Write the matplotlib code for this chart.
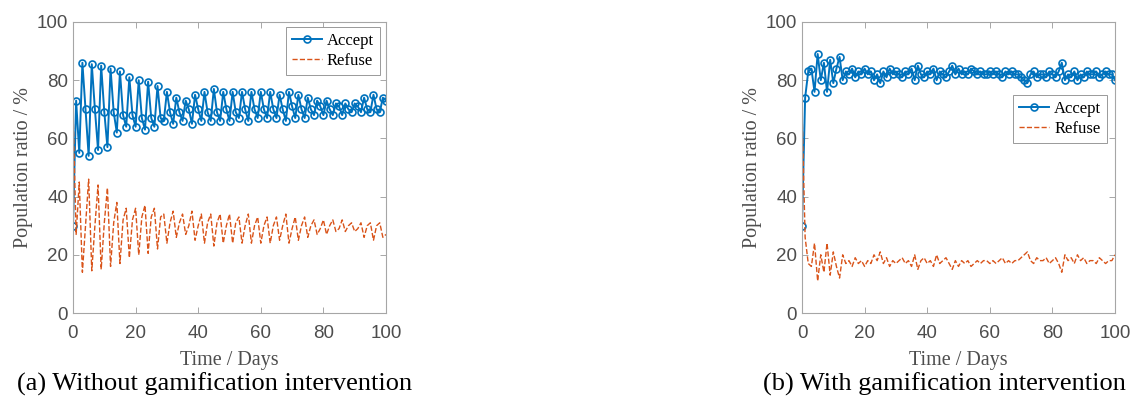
import matplotlib
matplotlib.use("Agg")
import matplotlib.pyplot as plt

# day index 0..100
days = list(range(101))

# (a) without gamification intervention
accept_a = [30, 73, 55, 86, 70, 54, 85.5, 70, 56, 85, 69, 57, 84, 69, 62, 83, 68, 64, 81, 68,
            64, 80, 67, 63, 79.5, 67, 64, 78, 67, 66, 76, 69, 65, 74, 69, 66, 73, 70, 65, 75,
            70, 66, 76, 69, 66, 77, 69, 66, 76, 70, 66, 76, 69, 67, 76, 70, 66, 76, 70, 67,
            76, 70, 67, 76, 70, 67, 75, 70, 66, 76, 71, 67, 75, 70, 67, 74, 70, 68, 73, 71,
            68, 73, 70, 68, 72, 71, 68, 72, 70, 69, 72, 71, 69, 74, 70, 69, 75, 70, 69, 74,
            73]
refuse_a = [70, 27, 45, 14, 30, 46, 14.5, 30, 44, 15, 31, 43, 16, 31, 38, 17, 32, 36, 19, 32,
            36, 20, 33, 37, 20.5, 33, 36, 22, 33, 34, 24, 31, 35, 26, 31, 34, 27, 30, 35, 25,
            30, 34, 24, 31, 34, 23, 31, 34, 24, 30, 34, 24, 31, 33, 24, 30, 34, 24, 30, 33,
            24, 30, 33, 24, 30, 33, 25, 30, 34, 24, 29, 33, 25, 30, 33, 26, 30, 32, 27, 29,
            32, 27, 30, 32, 28, 29, 32, 28, 30, 31, 28, 29, 31, 26, 30, 31, 25, 30, 31, 26,
            27]

# (b) with gamification intervention
accept_b = [30, 74, 83, 84, 76, 89, 80, 86, 76, 87, 79, 84, 88, 80, 83, 82, 84, 81, 83, 82,
            84, 82, 83, 80, 82, 79, 83, 81, 84, 82, 83, 82, 81, 83, 82, 84, 80, 85, 82, 81,
            83, 82, 84, 80, 83, 82, 81, 83, 85, 82, 84, 82, 83, 82, 84, 83, 82, 83, 82, 82,
            83, 82, 83, 82, 81, 83, 82, 83, 82, 82, 81, 80, 79, 82, 83, 81, 82, 82, 81, 83,
            82, 81, 83, 86, 80, 82, 81, 83, 80, 82, 81, 83, 82, 82, 83, 81, 82, 83, 82, 82,
            80]
refuse_b = [70, 26, 17, 16, 24, 11, 20, 14, 24, 13, 21, 16, 12, 20, 17, 18, 16, 19, 17, 18,
            16, 18, 17, 20, 18, 21, 17, 19, 16, 18, 17, 18, 19, 17, 18, 16, 20, 15, 18, 19,
            17, 18, 16, 20, 17, 18, 19, 17, 15, 18, 16, 18, 17, 18, 16, 17, 18, 17, 18, 18,
            17, 18, 17, 18, 19, 17, 18, 17, 18, 18, 19, 20, 21, 18, 17, 19, 18, 18, 19, 17,
            18, 19, 17, 14, 20, 18, 19, 17, 20, 18, 19, 17, 18, 18, 17, 19, 18, 17, 18, 18,
            20]

captions = ["(a) Without gamification intervention", "(b) With gamification intervention"]

BLUE = "#0072BD"
ORANGE = "#D95319"
SERIF = ["Liberation Serif", "DejaVu Serif"]
SANS = ["Liberation Sans", "DejaVu Sans"]

fig = plt.figure(figsize=(11.34, 3.98), dpi=100)
W, H = 1134, 398


def panel(x0, accept, refuse, legend_anchor):
    ax = fig.add_axes([x0 / W, 85 / H, 313 / W, 291 / H])
    ax.plot(days, accept, "-o", color=BLUE, lw=1.4, ms=5, mfc="none", mew=1.2,
            label="Accept")
    ax.plot(days, refuse, "--", color=ORANGE, lw=1.0, label="Refuse")
    ax.set_xlim(0, 100)
    ax.set_ylim(0, 100)
    ax.set_xticks(range(0, 101, 20))
    ax.set_yticks(range(0, 101, 20))
    ax.tick_params(direction="in", top=True, right=True, length=4, width=0.6,
                   color="#999999", labelcolor="#4d4d4d", labelsize=13.5)
    ax.tick_params(axis="x", pad=9)
    for lab in ax.get_xticklabels() + ax.get_yticklabels():
        lab.set_family(SANS)
    for sp in ax.spines.values():
        sp.set_color("#a6a6a6")
        sp.set_linewidth(0.8)
    ax.set_xlabel("Time / Days", family=SERIF, fontsize=14.5, color="#4d4d4d", labelpad=6)
    ax.set_ylabel("Population ratio / %", family=SERIF, fontsize=14.5, color="#4d4d4d",
                  labelpad=3)
    leg = ax.legend(loc="upper right", bbox_to_anchor=legend_anchor,
                    prop={"family": SERIF, "size": 12}, numpoints=1,
                    fancybox=False, framealpha=1, edgecolor="#999999", borderpad=0.35,
                    labelspacing=0.25, handlelength=1.8, handletextpad=0.3,
                    borderaxespad=0)
    leg.get_frame().set_linewidth(0.7)
    return ax


panel(73, accept_a, refuse_a, (0.98, 0.983))
panel(802, accept_b, refuse_b, (0.975, 0.748))

fig.text(17 / W, 1 - 384 / H, captions[0], family=SERIF, fontsize=19, va="center", ha="left")
fig.text(763 / W, 1 - 384 / H, captions[1], family=SERIF, fontsize=19, va="center", ha="left")

fig.savefig("out.png", dpi=100)
